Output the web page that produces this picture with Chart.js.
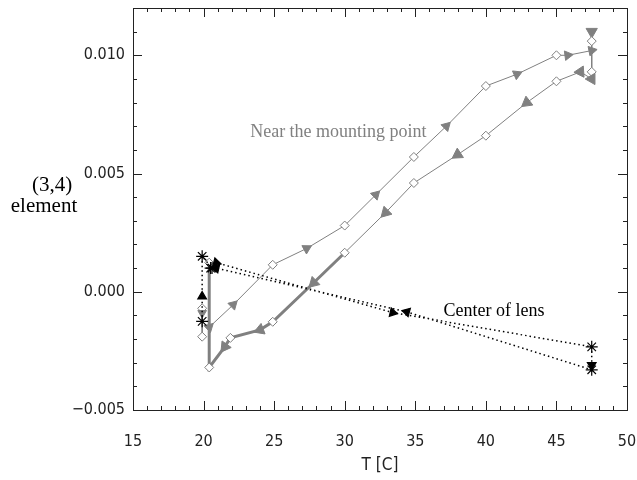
<!DOCTYPE html>
<html>
<head>
<meta charset="utf-8">
<script src="https://cdn.jsdelivr.net/npm/chart.js@4.4.0/dist/chart.umd.min.js"></script>
<style>
  html, body { margin: 0; padding: 0; background: #fff; }
</style>
</head>
<body>
<canvas id="chart" width="637" height="480"></canvas>
<script>
// Near the mounting point, heating run (T [C], (3,4) element); arrow = direction marker
const upT     = [20.4, 22.1, 24.9, 27.3, 30.0, 32.2, 34.9, 37.2, 40.0, 42.2, 45.0, 45.8, 47.5];
const upV     = [-0.0015, -0.00055, 0.00114, 0.00183, 0.0028, 0.0041, 0.0057, 0.0070, 0.0087, 0.0092, 0.0100, 0.0100, 0.0102];
const upArrow = [1, 1, 0, 1, 0, 1, 0, 1, 0, 1, 0, 1, 1];

// Near the mounting point, cooling run
const downT     = [47.5, 47.5, 47.5, 47.5, 46.7, 45.0, 42.9, 40.0, 38.0, 34.9, 32.9, 30.0, 27.8, 24.9, 24.0, 21.9, 21.5, 20.4, 20.4];
const downV     = [0.0110, 0.0106, 0.0093, 0.0090, 0.0093, 0.0089, 0.0080, 0.0066, 0.0058, 0.0046, 0.00335, 0.00165, 0.00038, -0.00127, -0.00161, -0.00195, -0.00233, -0.0032, 0.00123];
const downArrow = [1, 0, 0, 1, 1, 0, 1, 0, 1, 0, 1, 0, 1, 0, 1, 0, 1, 0, 0];

// Near the mounting point, start readings at 19.9 C
const startT     = [19.9, 19.9, 19.9];
const startV     = [-0.0007, -0.0009, -0.0019];
const startArrow = [0, 1, 0];

// Center of lens (whole loop)
const lensT     = [19.9, 19.9, 19.9, 20.6, 20.9, 33.4, 47.5, 47.5, 47.5, 34.4, 20.9, 20.5];
const lensV     = [-0.00125, -0.0002, 0.0015, 0.0010, 0.00123, -0.00088, -0.00233, -0.0031, -0.0033, -0.00085, 0.0010, 0.0010];
const lensArrow = [0, 1, 0, 0, 1, 1, 0, 1, 0, 1, 1, 0];

const xTicks = [15, 20, 25, 30, 35, 40, 45, 50];
const yTicks = [-0.005, 0.000, 0.005, 0.010];

const GRAY = "rgb(128,128,128)";
const AXIS = "#222";

const pts = (t, v, a) => t.map((x, i) => ({ x: x, y: v[i], arrow: a[i] }));

// triangle points along the path (previous point -> next point)
function arrowAngle(ctx) {
    if (!ctx.raw || !ctx.raw.arrow) return 0;
    const d = ctx.dataset.data, i = ctx.dataIndex;
    const sx = ctx.chart.scales.x, sy = ctx.chart.scales.y;
    const a = d[Math.max(i - 1, 0)], b = d[Math.min(i + 1, d.length - 1)];
    const dx = sx.getPixelForValue(b.x) - sx.getPixelForValue(a.x);
    const dy = sy.getPixelForValue(b.y) - sy.getPixelForValue(a.y);
    return Math.atan2(dy, dx) * 180 / Math.PI + 90;
}

function grayDataset(data, triSize, thick) {
    return {
        data: data,
        showLine: true,
        borderColor: GRAY,
        borderWidth: 1,
        segment: thick ? {
            borderWidth: ctx => (ctx.p0.parsed.x <= 30.01 && ctx.p1.parsed.x <= 30.01) ? 3 : 1
        } : undefined,
        pointStyle: ctx => ctx.raw && ctx.raw.arrow ? "triangle" : "rectRot",
        pointRadius: ctx => ctx.raw && ctx.raw.arrow ? triSize : 4.5,
        pointBackgroundColor: ctx => ctx.raw && ctx.raw.arrow ? GRAY : "#fff",
        pointBorderColor: GRAY,
        pointBorderWidth: 1,
        pointRotation: arrowAngle
    };
}

// frame with inward major / minor ticks on all four sides
const frame = {
    id: "frame",
    afterDatasetsDraw(chart) {
        const { ctx, chartArea: a, scales: { x, y } } = chart;
        ctx.save();
        ctx.strokeStyle = AXIS;
        ctx.lineWidth = 1;
        ctx.strokeRect(a.left + 0.5, a.top + 0.5, a.right - a.left, a.bottom - a.top);
        ctx.beginPath();
        for (let t = x.min; t <= x.max + 1e-9; t += 1) {
            const px = Math.round(x.getPixelForValue(t)) + 0.5;
            const len = Math.abs(t % 5) < 1e-9 ? 9 : 4;
            ctx.moveTo(px, a.bottom); ctx.lineTo(px, a.bottom - len);
            ctx.moveTo(px, a.top); ctx.lineTo(px, a.top + len);
        }
        for (let k = -5; k <= 12; k++) {
            const py = Math.round(y.getPixelForValue(k / 1000)) + 0.5;
            const len = Math.abs(k % 5) === 0 ? 9 : 4;
            ctx.moveTo(a.left, py); ctx.lineTo(a.left + len, py);
            ctx.moveTo(a.right, py); ctx.lineTo(a.right - len, py);
        }
        ctx.stroke();
        ctx.restore();
    },
    afterDraw(chart) {
        const { ctx, chartArea: a, scales: { x, y } } = chart;
        ctx.save();
        ctx.textBaseline = "middle";
        ctx.font = "18px 'Liberation Serif', 'Times New Roman', serif";
        ctx.fillStyle = GRAY;
        ctx.textAlign = "left";
        ctx.fillText("Near the mounting point", x.getPixelForValue(23.3), y.getPixelForValue(0.00675));
        ctx.fillStyle = "#000";
        ctx.fillText("Center of lens", x.getPixelForValue(37.0), y.getPixelForValue(-0.00082));
        ctx.font = "21px 'Liberation Serif', 'Times New Roman', serif";
        ctx.textAlign = "center";
        ctx.fillText("(3,4)", 52, 185);
        ctx.fillText("element", 44, 206);
        ctx.font = "17px 'DejaVu Sans Condensed', 'DejaVu Sans', sans-serif";
        ctx.fillStyle = AXIS;
        ctx.fillText("T [C]", (a.left + a.right) / 2, 466);
        ctx.restore();
    }
};

const tickFont = { family: "'DejaVu Sans Condensed', 'DejaVu Sans', sans-serif", size: 16 };

new Chart(document.getElementById("chart"), {
    type: "scatter",
    data: {
        datasets: [
            {
                data: pts(lensT, lensV, lensArrow),
                showLine: true,
                borderColor: "#000",
                borderWidth: 1.5,
                borderDash: [1.5, 3],
                pointStyle: ctx => ctx.raw && ctx.raw.arrow ? "triangle" : "star",
                pointRadius: ctx => ctx.raw && ctx.raw.arrow ? 5 : 6,
                pointBackgroundColor: "#000",
                pointBorderColor: "#000",
                pointBorderWidth: 1.2,
                pointRotation: arrowAngle
            },
            grayDataset(pts(startT, startV, startArrow), 5, false),
            grayDataset(pts(upT, upV, upArrow), 5.5, false),
            grayDataset(pts(downT, downV, downArrow), 6.5, true)
        ]
    },
    options: {
        responsive: false,
        animation: false,
        layout: { padding: { left: 0, top: 8, right: 10, bottom: 0 } },
        plugins: { legend: { display: false }, tooltip: { enabled: false } },
        elements: { line: { tension: 0 } },
        scales: {
            x: {
                type: "linear",
                min: 15,
                max: 50,
                grid: { display: false, drawTicks: false },
                border: { display: false },
                ticks: { font: tickFont, color: AXIS, padding: 22, maxRotation: 0 },
                afterBuildTicks: s => { s.ticks = xTicks.map(v => ({ value: v })); },
                afterFit: s => { s.height = 70; s.paddingLeft = 0; s.paddingRight = 0; }
            },
            y: {
                type: "linear",
                min: -0.005,
                max: 0.012,
                grid: { display: false, drawTicks: false },
                border: { display: false },
                ticks: {
                    font: tickFont,
                    color: AXIS,
                    padding: 8,
                    callback: v => (v < -1e-9 ? "\u2212" : "") + Math.abs(v).toFixed(3)
                },
                afterBuildTicks: s => { s.ticks = yTicks.map(v => ({ value: v })); },
                afterFit: s => { s.width = 133; s.paddingTop = 0; s.paddingBottom = 0; }
            }
        }
    },
    plugins: [frame]
});
</script>
</body>
</html>
